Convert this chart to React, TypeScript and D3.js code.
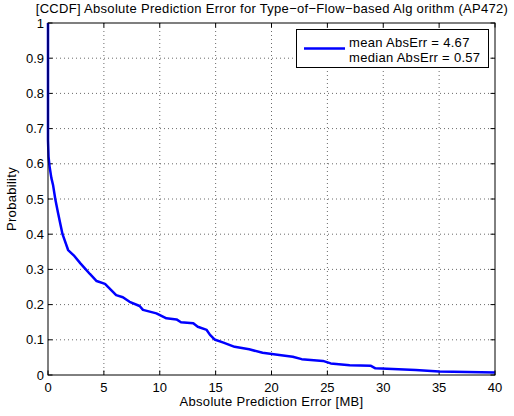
import React from 'react';
import { scaleLinear, line, range } from 'd3';

// CCDF curve
const errX = [0, 0, 0.05, 0.15, 0.3, 0.45, 0.65, 0.9, 1.1, 1.3, 1.8, 2.3, 2.9, 3.3, 3.75, 4.35, 5.1, 5.5, 6.1, 6.7, 7.3, 8.2, 8.5, 9.1, 9.7, 10.6, 11.5, 11.9, 13.0, 13.4, 14.2, 14.5, 14.9, 15.7, 16.7, 18.0, 19.2, 20.7, 21.9, 22.7, 24.6, 25.3, 27.0, 28.9, 29.3, 32.9, 35.0, 40];
const prob = [1, 0.667, 0.62, 0.59, 0.56, 0.54, 0.5, 0.46, 0.43, 0.4, 0.355, 0.34, 0.317, 0.303, 0.287, 0.267, 0.259, 0.246, 0.227, 0.221, 0.208, 0.196, 0.185, 0.18, 0.175, 0.161, 0.158, 0.15, 0.147, 0.137, 0.128, 0.114, 0.101, 0.092, 0.08, 0.073, 0.063, 0.057, 0.052, 0.045, 0.04, 0.033, 0.028, 0.026, 0.019, 0.014, 0.01, 0.007];

const xTicks = [0, 5, 10, 15, 20, 25, 30, 35, 40];
const yTicks = [0, 0.1, 0.2, 0.3, 0.4, 0.5, 0.6, 0.7, 0.8, 0.9, 1];
const legendLabels = ['mean AbsErr = 4.67', 'median AbsErr = 0.57'];

const title = '[CCDF] Absolute Prediction Error for Type\u2212of\u2212Flow\u2212based Alg orithm (AP472)';

const W = 514, H = 416;
const left = 48, right = 495, top = 23, bottom = 375;
const font = 'Liberation Sans, Arial, Helvetica, sans-serif';

export default function App() {
  const x = scaleLinear().domain([0, 40]).range([left, right]);
  const y = scaleLinear().domain([0, 1]).range([bottom, top]);
  const pts = range(errX.length).map(i => [errX[i], prob[i]] as [number, number]);
  const path = line<[number, number]>().x(d => x(d[0])).y(d => y(d[1]))(pts) || '';
  const tick = 4.5;

  return (
    <svg width={W} height={H} style={{ position: 'absolute', left: 0, top: 0, background: '#fff' }} fontFamily={font}>
      <rect x={0} y={0} width={W} height={H} fill="#fff" />
      {/* grid */}
      {xTicks.slice(1, -1).map(t => (
        <line key={'gx' + t} x1={x(t)} x2={x(t)} y1={top} y2={bottom} stroke="#444" strokeWidth={0.8} strokeDasharray="1 3" />
      ))}
      {yTicks.slice(1, -1).map(t => (
        <line key={'gy' + t} x1={left} x2={right} y1={y(t)} y2={y(t)} stroke="#444" strokeWidth={0.8} strokeDasharray="1 3" />
      ))}
      {/* ticks */}
      {xTicks.map(t => (
        <g key={'tx' + t}>
          <line x1={x(t)} x2={x(t)} y1={bottom} y2={bottom - tick} stroke="#000" />
          <line x1={x(t)} x2={x(t)} y1={top} y2={top + tick} stroke="#000" />
          <text x={x(t)} y={391.5} fontSize={13} textAnchor="middle">{t}</text>
        </g>
      ))}
      {yTicks.map(t => (
        <g key={'ty' + t}>
          <line x1={left} x2={left + tick} y1={y(t)} y2={y(t)} stroke="#000" />
          <line x1={right} x2={right - tick} y1={y(t)} y2={y(t)} stroke="#000" />
          <text x={44} y={y(t) + 4.6} fontSize={13} textAnchor="end">{t}</text>
        </g>
      ))}
      {/* curve */}
      <path d={path} fill="none" stroke="#0000ff" strokeWidth={2.5} strokeLinejoin="round" />
      {/* box */}
      <rect x={left} y={top} width={right - left} height={bottom - top} fill="none" stroke="#000" strokeWidth={1} />
      {/* legend */}
      <rect x={296.5} y={29.5} width={192} height={38} fill="#fff" stroke="#000" />
      <line x1={304} x2={345} y1={48.5} y2={48.5} stroke="#0000ff" strokeWidth={2.5} />
      {legendLabels.map((l, i) => (
        <text key={l} x={349} y={46.5 + i * 15.5} fontSize={13} letterSpacing={0.3}>{l}</text>
      ))}
      {/* labels */}
      <text x={272} y={13} fontSize={13} letterSpacing={0.3} textAnchor="middle">{title}</text>
      <text x={(left + right) / 2} y={405.5} fontSize={13} letterSpacing={0.3} textAnchor="middle">Absolute Prediction Error [MB]</text>
      <text transform={`translate(16,${(top + bottom) / 2}) rotate(-90)`} fontSize={13} letterSpacing={0.3} textAnchor="middle">Probability</text>
    </svg>
  );
}
